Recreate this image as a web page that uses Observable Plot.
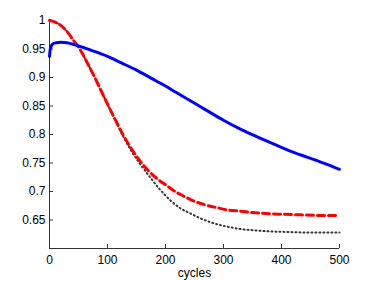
<!DOCTYPE html>
<html>
<head>
<meta charset="utf-8">
<script src="https://cdn.jsdelivr.net/npm/d3@7"></script>
<script src="https://cdn.jsdelivr.net/npm/@observablehq/plot@0.6"></script>
<style>
body { margin: 0; background: #fff; }
</style>
</head>
<body>
<div id="chart"></div>
<script>
// Series
const blueX = [0, 1, 3, 6, 12, 20, 30, 45, 71, 100, 123, 150, 175, 200, 218, 245, 273, 300, 330, 360, 387, 415, 445, 475, 500];
const blueY = [0.937, 0.948, 0.955, 0.959, 0.961, 0.962, 0.961, 0.957, 0.948, 0.937, 0.926, 0.913, 0.899, 0.885, 0.874, 0.858, 0.841, 0.825, 0.809, 0.795, 0.783, 0.771, 0.760, 0.749, 0.739];

const redX = [0, 5, 10, 20, 30, 40, 54, 65, 80, 94, 111, 126, 140, 155, 170, 186, 204, 218, 235, 252, 270, 287, 305, 324, 350, 379, 405, 434, 465, 500];
const redY = [1.0, 0.999, 0.997, 0.991, 0.981, 0.967, 0.947, 0.926, 0.896, 0.866, 0.831, 0.801, 0.777, 0.755, 0.737, 0.722, 0.709, 0.699, 0.690, 0.682, 0.676, 0.672, 0.668, 0.666, 0.663, 0.661, 0.660, 0.659, 0.658, 0.658];

const blackX = [0, 5, 10, 20, 30, 40, 54, 65, 80, 94, 111, 126, 140, 155, 175, 190, 200, 209, 225, 244, 260, 278, 295, 313, 330, 352, 380, 410, 450, 500];
const blackY = [1.0, 0.999, 0.997, 0.991, 0.981, 0.967, 0.947, 0.926, 0.896, 0.866, 0.830, 0.799, 0.773, 0.750, 0.723, 0.704, 0.693, 0.684, 0.671, 0.661, 0.653, 0.646, 0.641, 0.637, 0.634, 0.632, 0.630, 0.629, 0.628, 0.628];

const xTicks = [0, 100, 200, 300, 400, 500];
const yTicks = [0.65, 0.7, 0.75, 0.8, 0.85, 0.9, 0.95, 1];
const xLabel = "cycles";

const blue = blueX.map((x, i) => ({x, y: blueY[i]}));
const red = redX.map((x, i) => ({x, y: redY[i]}));
const black = blackX.map((x, i) => ({x, y: blackY[i]}));

const W = 374, H = 281;
const mL = 49, mR = 35, mT = 20, mB = 33;

const chart = Plot.plot({
  width: W,
  height: H,
  marginLeft: mL,
  marginRight: mR,
  marginTop: mT,
  marginBottom: mB,
  style: {fontFamily: "'Liberation Sans', Arial, Helvetica, sans-serif", fontSize: "12px", color: "#000", background: "#fff"},
  x: {domain: [0, 500]},
  y: {domain: [0.6, 1]},
  marks: [
    Plot.axisX(xTicks, {tickSize: 0, tickPadding: 7, fontSize: 12, label: xLabel, labelAnchor: "center", labelArrow: "none", labelOffset: 28, tickFormat: d => String(d)}),
    Plot.axisY(yTicks, {tickSize: 0, tickPadding: 4, fontSize: 12, label: null, tickFormat: d => String(d)}),
    Plot.tickX(xTicks, {x: d => d, stroke: "#333", insetTop: H - mT - mB - 4}),
    Plot.tickY(yTicks, {y: d => d, stroke: "#333", insetRight: W - mL - mR - 4}),
    Plot.ruleX([0], {stroke: "#333"}),
    Plot.ruleY([0.6], {stroke: "#333"}),
    Plot.line(black, {x: "x", y: "y", stroke: "#333", strokeWidth: 2, strokeDasharray: "1,3", curve: "monotone-x"}),
    Plot.line(red, {x: "x", y: "y", stroke: "#ff0000", strokeWidth: 3, strokeDasharray: "7,4", curve: "monotone-x"}),
    Plot.line(blue, {x: "x", y: "y", stroke: "#0000ff", strokeWidth: 3, curve: "monotone-x"})
  ]
});
document.getElementById("chart").appendChild(chart);
</script>
</body>
</html>
